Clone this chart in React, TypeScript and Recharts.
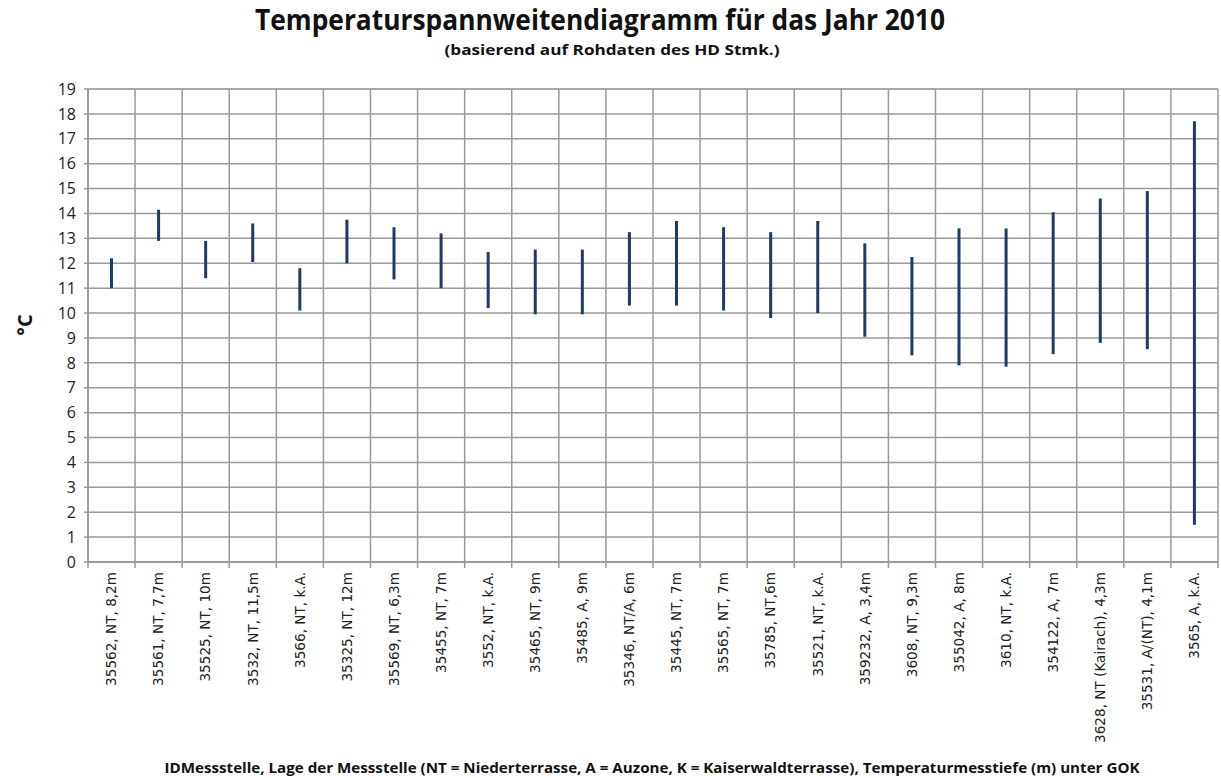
import { BarChart, Bar, XAxis, YAxis, CartesianGrid } from "recharts"

const stations = [
  "35562, NT, 8,2m",
  "35561, NT, 7,7m",
  "35525, NT, 10m",
  "3532, NT, 11,5m",
  "3566, NT, k.A.",
  "35325, NT, 12m",
  "35569, NT, 6,3m",
  "35455, NT, 7m",
  "3552, NT, k.A.",
  "35465, NT, 9m",
  "35485, A, 9m",
  "35346, NT/A, 6m",
  "35445, NT, 7m",
  "35565, NT, 7m",
  "35785, NT,6m",
  "35521, NT, k.A.",
  "359232, A, 3,4m",
  "3608, NT, 9,3m",
  "355042, A, 8m",
  "3610, NT, k.A.",
  "354122, A, 7m",
  "3628, NT (Kairach), 4,3m",
  "35531, A/(NT), 4,1m",
  "3565, A, k.A.",
]

const minTemp = [
  11.0, 12.9, 11.4, 12.05, 10.1, 12.0, 11.35, 11.0, 10.2, 9.95, 9.95, 10.3,
  10.3, 10.1, 9.8, 10.0, 9.05, 8.3, 7.9, 7.85, 8.35, 8.8, 8.55, 1.5,
]

const maxTemp = [
  12.2, 14.15, 12.9, 13.6, 11.8, 13.75, 13.45, 13.2, 12.45, 12.55, 12.55, 13.25,
  13.7, 13.45, 13.25, 13.7, 12.8, 12.25, 13.4, 13.4, 14.05, 14.6, 14.9, 17.7,
]

const yTicks = Array.from({ length: 20 }, (_, i) => i)
const yMinorTicks = Array.from({ length: 19 }, (_, i) => i + 0.5)

const data = stations.map((name, i) => ({
  name,
  range: [minTemp[i], maxTemp[i]],
}))

const W = 1221
const H = 778

// category boundaries for the vertical grid lines
const boundaryGrid = ({ offset }: any) =>
  Array.from(
    { length: stations.length + 1 },
    (_, i) => offset.left + (i * offset.width) / stations.length
  )

function StationTick(props: any) {
  const { x, y, payload, width, visibleTicksCount, index } = props
  const band = width / (visibleTicksCount || stations.length)
  const half = band / 2
  return (
    <g transform={`translate(${x},${y})`}>
      <line x1={-half} x2={-half} y1={-10} y2={-4} stroke="#999" strokeWidth={1.5} />
      {index === stations.length - 1 && (
        <line x1={half} x2={half} y1={-10} y2={-4} stroke="#999" strokeWidth={1.5} />
      )}
      <text
        transform="rotate(-90)"
        x={0}
        y={0}
        textAnchor="end"
        dy="0.35em"
        fill="#222"
        style={{ fontFamily: "'DejaVu Sans', Verdana, sans-serif", fontSize: 13.6 }}
      >
        {payload.value}
      </text>
    </g>
  )
}

export default function App() {
  return (
    <div
      style={{
        position: "absolute",
        left: 0,
        top: 0,
        width: W,
        height: H,
        background: "#fff",
      }}
    >
      <BarChart
        width={W}
        height={H}
        data={data}
        margin={{ top: 89, right: 3, bottom: 0, left: 0 }}
      >
        <XAxis
          dataKey="name"
          type="category"
          interval={0}
          height={216}
          tickSize={6}
          tickMargin={4}
          tickLine={false}
          axisLine={{ stroke: "#999", strokeWidth: 1.5 }}
          tick={<StationTick />}
        />
        <YAxis
          domain={[0, 19]}
          ticks={yTicks}
          interval={0}
          width={88}
          tickSize={4}
          tickMargin={8}
          tick={{ fontSize: 16, fill: "#222", fontFamily: "Open Sans, sans-serif" }}
          tickLine={{ stroke: "#999", strokeWidth: 1.5 }}
          axisLine={{ stroke: "#999", strokeWidth: 1.5 }}
        />
        <YAxis
          yAxisId="minor"
          domain={[0, 19]}
          ticks={yMinorTicks}
          interval={0}
          width={0}
          tick={false}
          tickLine={false}
          axisLine={false}
        />
        <CartesianGrid
          yAxisId="minor"
          vertical={false}
          stroke="#d0d0d0"
          strokeWidth={1.5}
        />
        <CartesianGrid vertical={false} stroke="#9a9a9a" strokeWidth={1.5} />
        <CartesianGrid
          horizontal={false}
          verticalCoordinatesGenerator={boundaryGrid}
          stroke="#9a9a9a"
          strokeWidth={1.5}
        />
        <Bar
          dataKey="range"
          fill="#1f3a64"
          barSize={3}
          isAnimationActive={false}
        />
      </BarChart>
      <svg
        width={W}
        height={H}
        style={{ position: "absolute", left: 0, top: 0, pointerEvents: "none" }}
      >
        <g fontFamily="Liberation Sans Narrow, Open Sans, sans-serif" fontWeight="bold" fill="#111">
          <text x={600} y={30} textAnchor="middle" fontSize={29} textLength={690} lengthAdjust="spacingAndGlyphs">
            Temperaturspannweitendiagramm für das Jahr 2010
          </text>
          <text x={612} y={55} textAnchor="middle" fontSize={15} textLength={335} lengthAdjust="spacingAndGlyphs">
            (basierend auf Rohdaten des HD Stmk.)
          </text>
          <text x={652} y={773} textAnchor="middle" fontSize={14.5} textLength={975} lengthAdjust="spacingAndGlyphs">
            IDMessstelle, Lage der Messstelle (NT = Niederterrasse, A = Auzone, K = Kaiserwaldterrasse), Temperaturmesstiefe (m) unter GOK
          </text>
          <text x={25} y={325} textAnchor="middle" fontSize={20} transform="rotate(-90 25 325)" dy="0.35em">
            °C
          </text>
        </g>
      </svg>
    </div>
  )
}
